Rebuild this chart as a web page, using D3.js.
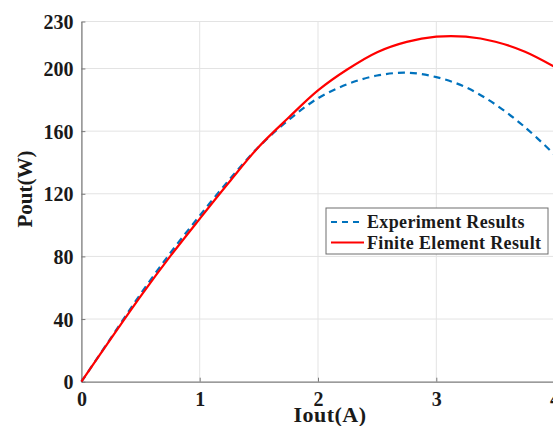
<!DOCTYPE html>
<html>
<head>
<meta charset="utf-8">
<script src="https://cdn.jsdelivr.net/npm/d3@7"></script>
<style>
  body { margin: 0; background: #fff; }
  svg { display: block; }
  text { font-family: "Liberation Serif", "Times New Roman", serif; font-weight: bold; fill: #1a1a1a; }
</style>
</head>
<body>
<svg id="chart"></svg>
<script>
// Iout (A) sample points
const current = [0, 0.25, 0.5, 0.75, 1.0, 1.25, 1.5, 1.75, 2.0, 2.25, 2.5, 2.75, 3.0, 3.25, 3.5, 3.75, 4.0];
// Pout (W)
const experimentPower = [0, 28, 56, 82, 106, 129, 150, 167, 181, 190, 195.5, 197.3, 194.5, 188, 177, 162.5, 145];
const femPower = [0, 27.5, 54.5, 80, 104, 127.5, 150, 168.5, 186, 199.5, 210.4, 217, 220.3, 220.3, 217.1, 210.7, 201];

const xTicks = [0, 1, 2, 3, 4];
const yTicks = [0, 40, 80, 120, 160, 200, 230];

const seriesNames = ['Experiment Results', 'Finite Element Result'];
const seriesColors = ['#0072bd', '#ff0000'];

const width = 553, height = 426;
const margin = { top: 21.5, right: -1.6, bottom: 44.3, left: 81.4 };
const innerW = width - margin.left - margin.right;
const innerH = height - margin.top - margin.bottom;

const svg = d3.select('#chart').attr('width', width).attr('height', height);

const x = d3.scaleLinear().domain([0, 4]).range([0, innerW]);
const y = d3.scaleLinear().domain([0, 230]).range([innerH, 0]);

const g = svg.append('g').attr('transform', `translate(${margin.left},${margin.top})`);

// grid
g.append('g')
  .selectAll('line')
  .data(xTicks.filter(d => d > 0))
  .enter().append('line')
  .attr('x1', d => x(d)).attr('x2', d => x(d))
  .attr('y1', 0).attr('y2', innerH)
  .attr('stroke', '#e3e3e3').attr('stroke-width', 1);

g.append('g')
  .selectAll('line')
  .data(yTicks.filter(d => d > 0))
  .enter().append('line')
  .attr('x1', 0).attr('x2', innerW)
  .attr('y1', d => y(d)).attr('y2', d => y(d))
  .attr('stroke', '#e3e3e3').attr('stroke-width', 1);

// axes
const xAxis = g.append('g')
  .attr('transform', `translate(0,${innerH})`)
  .call(d3.axisBottom(x).tickValues(xTicks).tickFormat(d3.format('d')).tickSizeInner(-4).tickSizeOuter(0).tickPadding(13));
const yAxis = g.append('g')
  .call(d3.axisLeft(y).tickValues(yTicks).tickFormat(d3.format('d')).tickSizeInner(-4).tickSizeOuter(0).tickPadding(8));

[xAxis, yAxis].forEach(ax => {
  ax.select('.domain').attr('stroke', '#7a7a7a').attr('stroke-width', 1.3);
  ax.selectAll('.tick line').attr('stroke', '#7a7a7a');
  ax.selectAll('.tick text')
    .style('font-family', '"Liberation Serif", "Times New Roman", serif')
    .style('font-weight', 'bold')
    .style('font-size', '20px')
    .attr('fill', '#1a1a1a');
});
xAxis.selectAll('.tick text').attr('dy', '0.55em');
yAxis.selectAll('.tick text').attr('dy', '0.36em');

// lines
const line = d3.line()
  .x(d => x(d[0]))
  .y(d => y(d[1]))
  .curve(d3.curveCatmullRom.alpha(0.5));

g.append('path')
  .datum(current.map((c, i) => [c, experimentPower[i]]))
  .attr('d', line)
  .attr('fill', 'none')
  .attr('stroke', seriesColors[0])
  .attr('stroke-width', 2.2)
  .attr('stroke-dasharray', '7,5');

g.append('path')
  .datum(current.map((c, i) => [c, femPower[i]]))
  .attr('d', line)
  .attr('fill', 'none')
  .attr('stroke', seriesColors[1])
  .attr('stroke-width', 2.2);

// axis titles
svg.append('text')
  .attr('x', 330).attr('y', 422)
  .attr('text-anchor', 'middle')
  .style('font-size', '22px')
  .style('letter-spacing', '0.5px')
  .text('Iout(A)');

svg.append('text')
  .attr('transform', 'translate(32,189) rotate(-90)')
  .attr('text-anchor', 'middle')
  .style('font-size', '21px')
  .text('Pout(W)');

// legend
const legend = svg.append('g').attr('transform', 'translate(326,208)');
legend.append('rect')
  .attr('width', 222).attr('height', 46)
  .attr('fill', '#fff')
  .attr('stroke', '#6e6e6e').attr('stroke-width', 1);

seriesNames.forEach((name, i) => {
  const row = legend.append('g').attr('transform', `translate(0,${14 + i * 20.5})`);
  row.append('line')
    .attr('x1', 5).attr('x2', 38)
    .attr('y1', 0).attr('y2', 0)
    .attr('stroke', seriesColors[i])
    .attr('stroke-width', 2.2)
    .attr('stroke-dasharray', i === 0 ? '6,5' : null);
  row.append('text')
    .attr('x', 41).attr('y', 0)
    .attr('dy', '0.35em')
    .style('font-size', '18px')
    .style('letter-spacing', '0.35px')
    .text(name);
});
</script>
</body>
</html>
